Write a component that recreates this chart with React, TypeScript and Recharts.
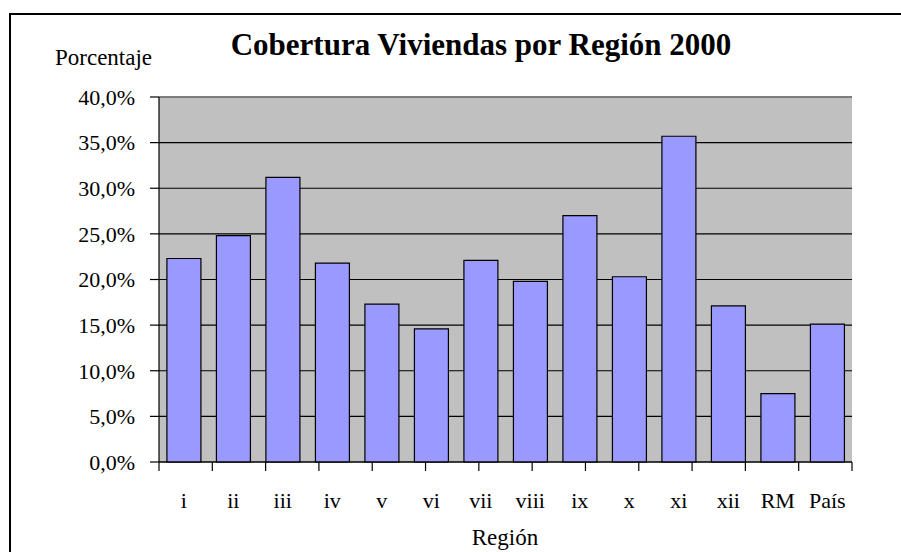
import { Bar, BarChart, CartesianGrid, Label, ReferenceLine, XAxis, YAxis } from 'recharts';

const regiones = ['i', 'ii', 'iii', 'iv', 'v', 'vi', 'vii', 'viii', 'ix', 'x', 'xi', 'xii', 'RM', 'País'];
const cobertura = [22.3, 24.8, 31.2, 21.8, 17.3, 14.6, 22.1, 19.8, 27.0, 20.3, 35.7, 17.1, 7.5, 15.1];
const yTicks = [0, 5, 10, 15, 20, 25, 30, 35, 40];
const edgeTicks = [0, 1, 2, 3, 4, 5, 6, 7, 8, 9, 10, 11, 12, 13, 14];

const TITLE = 'Cobertura Viviendas por Región 2000';
const FONT = '"Liberation Serif", "Times New Roman", serif';
const BAR_COLOR = '#9999ff';
const PLOT_BG = '#c0c0c0';
const BORDER_GRAY = '#808080';

const data = regiones.map((region, i) => ({ region, valor: cobertura[i] }));

const fmtPct = (v: number) => `${v.toFixed(1).replace('.', ',')}%`;

export default function App() {
  return (
    <div style={{ position: 'absolute', left: 0, top: 0, width: 901, height: 552, overflow: 'hidden', background: '#fff' }}>
      <div
        style={{
          position: 'absolute',
          left: 9,
          top: 13,
          width: 1000,
          height: 1000,
          border: '2px solid #000',
        }}
      />
      <div style={{ position: 'absolute', left: 0, top: 0 }}>
        <BarChart
          width={901}
          height={552}
          data={data}
          margin={{ top: 97, right: 49, bottom: 0, left: 0 }}
          barCategoryGap="16%"
        >
          <CartesianGrid vertical={false} stroke="#000" strokeWidth={1.2} fill={PLOT_BG} fillOpacity={1} />
          <XAxis
            xAxisId={0}
            type="number"
            domain={[0, 14]}
            ticks={edgeTicks}
            tickFormatter={() => ''}
            tickSize={9}
            axisLine={{ stroke: '#000', strokeWidth: 1.2 }}
            tickLine={{ stroke: '#000', strokeWidth: 1.2 }}
            height={12}
            interval={0}
            allowDataOverflow
          />
          <XAxis
            xAxisId={1}
            dataKey="region"
            height={78}
            axisLine={false}
            tickLine={false}
            tickSize={0}
            tickMargin={18}
            interval={0}
            tick={{ fill: '#000', fontFamily: FONT, fontSize: 22 }}
          >
            <Label
              content={() => (
                <text x={505} y={545} textAnchor="middle" fill="#000" fontFamily={FONT} fontSize={23}>
                  Región
                </text>
              )}
            />
          </XAxis>
          <YAxis
            width={159}
            domain={[0, 40]}
            ticks={yTicks}
            tickFormatter={fmtPct}
            tickSize={9}
            tickMargin={15}
            axisLine={{ stroke: '#000', strokeWidth: 1.2 }}
            tickLine={{ stroke: '#000', strokeWidth: 1.2 }}
            tick={{ fill: '#000', fontFamily: FONT, fontSize: 22 }}
          >
            <Label
              content={() => (
                <text x={55} y={65} fill="#000" fontFamily={FONT} fontSize={23}>
                  Porcentaje
                </text>
              )}
            />
            <Label
              content={() => (
                <text x={481} y={55} textAnchor="middle" fill="#000" fontFamily={FONT} fontSize={31} fontWeight="bold">
                  {TITLE}
                </text>
              )}
            />
          </YAxis>
          <ReferenceLine y={40} xAxisId={0} stroke={BORDER_GRAY} strokeWidth={1.5} />
          <ReferenceLine xAxisId={0} x={14} stroke={BORDER_GRAY} strokeWidth={1.5} />
          <Bar xAxisId={1} dataKey="valor" fill={BAR_COLOR} stroke="#000" strokeWidth={1.2} isAnimationActive={false} />
        </BarChart>
      </div>
    </div>
  );
}
